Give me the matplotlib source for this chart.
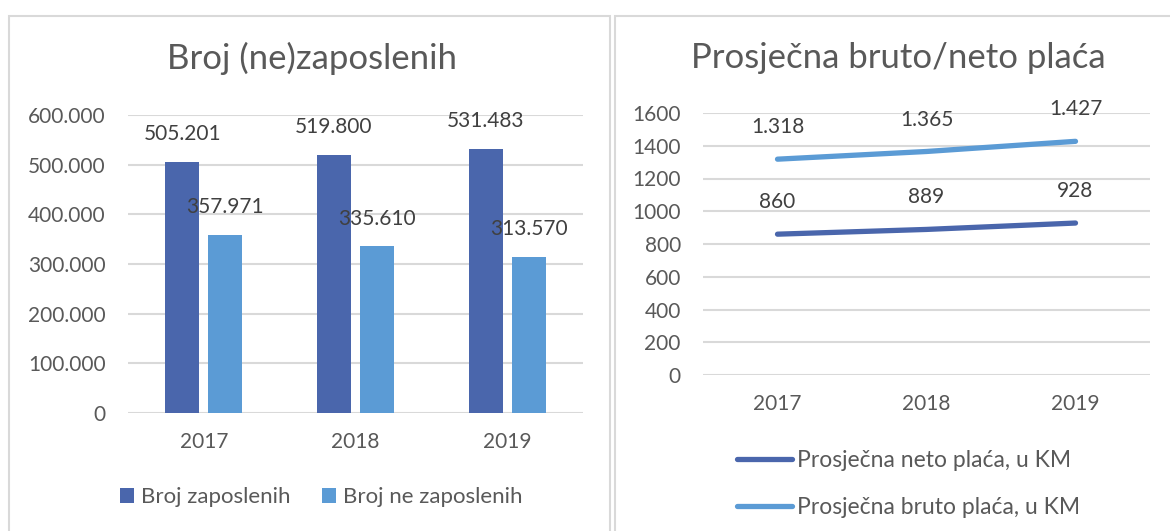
import matplotlib.pyplot as plt
from matplotlib.patches import Rectangle

plt.rcParams['font.family'] = ['Lato', 'DejaVu Sans']

# --- data ---
years = ['2017', '2018', '2019']
zaposleni = [505201, 519800, 531483]
nezaposleni = [357971, 335610, 313570]
neto = [860, 889, 928]
bruto = [1318, 1365, 1427]

dark = '#4A66AC'
light = '#5B9BD5'
grid_c = '#D9D9D9'
txt = '#595959'
lbl = '#404040'

W, H = 1170, 531
fig = plt.figure(figsize=(W / 100, H / 100), dpi=100)


def fx(px):
    return px / W


def fy(py):
    return 1 - py / H


def dots(v):
    return f'{v:,}'.replace(',', '.')


# panel borders
for x0, x1 in [(9, 610), (615, 1175)]:
    fig.patches.append(Rectangle((fx(x0), fy(540)), fx(x1 - x0), (540 - 16) / H,
                                 transform=fig.transFigure, fill=False,
                                 edgecolor=grid_c, lw=1.5))


def style(ax):
    for s in ax.spines.values():
        s.set_visible(False)
    ax.grid(axis='y', color=grid_c, lw=1.5)
    ax.set_axisbelow(True)
    ax.tick_params(length=0, labelsize=15, labelcolor=txt)
    ax.tick_params(axis='y', pad=16)
    ax.tick_params(axis='x', pad=14)
    ax.set_xlim(-0.5, 2.5)
    ax.set_xticks(range(3))
    ax.set_xticklabels(years)


# --- left: bar chart ---
ax1 = fig.add_axes([fx(128), fy(413), fx(455), 298 / H])
style(ax1)
x = range(len(years))
off, bw = 0.142, 0.224
b1 = ax1.bar([i - off for i in x], zaposleni, bw, color=dark, label='Broj zaposlenih')
b2 = ax1.bar([i + off for i in x], nezaposleni, bw, color=light, label='Broj ne zaposlenih')
ax1.set_ylim(0, 600000)
ax1.set_yticks(range(0, 600001, 100000))
ax1.set_yticklabels([dots(v) for v in range(0, 600001, 100000)])
for bars, vals in [(b1, zaposleni), (b2, nezaposleni)]:
    for r, v in zip(bars, vals):
        ax1.annotate(dots(v), (r.get_x() + r.get_width() / 2, v), xytext=(0, 20),
                     textcoords='offset points', ha='center', va='center',
                     fontsize=15, color=lbl)
fig.text(fx(312), fy(58), 'Broj (ne)zaposlenih', fontsize=25, color=txt,
         ha='center', va='center')
fig.legend(handles=[b1, b2], loc='center', bbox_to_anchor=(fx(321), fy(497)),
           ncol=2, frameon=False, fontsize=16, labelcolor=txt,
           handlelength=0.65, handleheight=0.65, handletextpad=0.3, columnspacing=1.4)

# --- right: line chart ---
ax2 = fig.add_axes([fx(703), fy(375), fx(447), 262 / H])
style(ax2)
l1, = ax2.plot(x, neto, color=dark, lw=3.8, solid_capstyle='round',
               label='Prosječna neto plaća, u KM')
l2, = ax2.plot(x, bruto, color=light, lw=3.8, solid_capstyle='round',
               label='Prosječna bruto plaća, u KM')
ax2.set_ylim(0, 1600)
ax2.set_yticks(range(0, 1601, 200))
for vals in [neto, bruto]:
    for i, v in enumerate(vals):
        ax2.annotate(dots(v), (i, v), xytext=(0, 23), textcoords='offset points',
                     ha='center', va='center', fontsize=15, color=lbl)
fig.text(fx(898), fy(58), 'Prosječna bruto/neto plaća', fontsize=25, color=txt,
         ha='center', va='center')
fig.legend(handles=[l1, l2], loc='center left', bbox_to_anchor=(fx(737), fy(484)),
           frameon=False, fontsize=16.5, labelcolor=txt, borderpad=0, borderaxespad=0,
           handlelength=2.4, handletextpad=0.2, labelspacing=1.1)

fig.savefig('out.png', dpi=100)
